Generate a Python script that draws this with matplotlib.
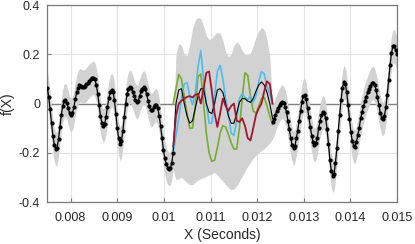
import numpy as np
import matplotlib
matplotlib.use("Agg")
import matplotlib.pyplot as plt

plt.rcParams['font.family'] = ['Liberation Sans', 'DejaVu Sans']
plt.rcParams['axes.unicode_minus'] = False

# observed signal, left part (sampled every 30 us from 7.5 ms)
fs = 1 / 3e-5
left_t0 = 0.0075
left_f = [0.065, 0.028, -0.024, -0.08, -0.13, -0.167, -0.185, -0.18, -0.145, -0.097,
          -0.048, -0.01, 0.011, 0.014, 0.002, -0.02, -0.04, -0.047, -0.039, -0.015,
          0.018, 0.046, 0.065, 0.074, 0.073, 0.069, 0.069, 0.072, 0.078, 0.085,
          0.092, 0.098, 0.102, 0.104, 0.098, 0.077, 0.04, -0.005, -0.05, -0.078,
          -0.09, -0.082, -0.055, -0.014, 0.022, 0.046, 0.055, 0.046, 0.014, -0.044,
          -0.10, -0.142, -0.164, -0.153, -0.11, -0.056, -0.003, 0.038, 0.06, 0.068,
          0.064, 0.048, 0.03, 0.013, 0.005, 0.011, 0.03, 0.049, 0.061, 0.066,
          0.058, 0.038, 0.012, -0.012, -0.026, -0.026, -0.016, -0.008, -0.006, -0.02,
          -0.05, -0.093, -0.14, -0.187, -0.222, -0.246, -0.26, -0.267, -0.262, -0.24,
          -0.2]

# observed signal, right part
right_t0 = 0.01233
right_f = [-0.075, -0.063, -0.047, -0.03, -0.017, -0.005, 0.004, 0.008, 0.003, -0.013,
           -0.036, -0.07, -0.105, -0.14, -0.168, -0.182, -0.173, -0.142, -0.11, -0.07,
           -0.032, 0.008, 0.03, 0.033, 0.017, -0.018, -0.056, -0.095, -0.13, -0.158,
           -0.169, -0.162, -0.138, -0.1, -0.07, -0.047, -0.036, -0.04, -0.06, -0.105,
           -0.165, -0.228, -0.272, -0.293, -0.285, -0.24, -0.18, -0.11, -0.045, 0.015,
           0.065, 0.087, 0.08, 0.045, -0.005, -0.062, -0.115, -0.152, -0.172, -0.175,
           -0.155, -0.127, -0.098, -0.06, -0.035, -0.012, 0.01, 0.028, 0.045, 0.06,
           0.072, 0.082, 0.084, 0.075, 0.055, 0.025, -0.005, -0.037, -0.058, -0.064,
           -0.05, -0.015, 0.035, 0.095, 0.155, 0.205, 0.232, 0.232, 0.218, 0.2]

# missing segment: posterior band and four samples
gap_start, gap_end, gap_n = 0.0102, 0.01233, 37
gap_upper = [0.10, 0.20, 0.245, 0.235, 0.20, 0.195, 0.24, 0.305, 0.34, 0.35,
             0.345, 0.315, 0.275, 0.26, 0.265, 0.28, 0.29, 0.285, 0.255, 0.21,
             0.19, 0.20, 0.235, 0.25, 0.24, 0.215, 0.20, 0.198, 0.205, 0.235,
             0.27, 0.295, 0.31, 0.30, 0.26, 0.19, 0.12]
gap_lower = [-0.31, -0.31, -0.305, -0.30, -0.31, -0.322, -0.33, -0.33, -0.32, -0.31,
             -0.305, -0.30, -0.295, -0.29, -0.285, -0.28, -0.29, -0.305, -0.315, -0.33,
             -0.342, -0.35, -0.347, -0.335, -0.315, -0.295, -0.275, -0.255, -0.238, -0.222,
             -0.21, -0.20, -0.19, -0.183, -0.172, -0.16, -0.145]
sample_green = [0.0, 0.06, 0.118, 0.10, 0.03, -0.04, -0.10, -0.10, -0.01, 0.11,
                0.12, 0.0, -0.12, -0.20, -0.235, -0.23, -0.18, -0.12, -0.09, -0.095,
                -0.125, -0.16, -0.185, -0.185, -0.10, 0.02, 0.125, 0.115, 0.03, -0.03,
                -0.04, -0.01, 0.02, 0.025, -0.01, -0.05, -0.085]
sample_cyan = [-0.20, -0.13, -0.06, 0.02, 0.08, 0.085, 0.03, -0.005, 0.04, 0.15,
               0.215, 0.10, 0.0, -0.08, -0.08, 0.03, 0.13, 0.155, 0.10, 0.02,
               -0.04, -0.12, -0.13, -0.07, 0.02, 0.04, 0.025, 0.015, 0.03, 0.005,
               0.03, 0.09, 0.13, 0.12, 0.07, 0.04, 0.0]
sample_red = [-0.175, -0.05, 0.0, 0.012, 0.02, 0.027, 0.03, 0.025, 0.035, 0.04,
              0.0, 0.06, 0.125, 0.13, 0.05, -0.04, -0.095, -0.04, 0.02, -0.01,
              -0.03, -0.01, 0.0, -0.07, -0.075, -0.06, -0.09, -0.14, -0.15, -0.10,
              -0.047, -0.02, 0.0, 0.05, 0.09, 0.08, 0.0]
sample_black = [-0.19, 0.0, 0.055, 0.06, 0.0, -0.05, -0.08, -0.07, -0.02, 0.03,
                0.06, 0.06, 0.0, -0.035, -0.04, 0.0, 0.055, 0.06, 0.045, 0.0,
                -0.05, -0.08, -0.08, -0.04, 0.005, 0.02, 0.02, 0.01, 0.005, 0.02,
                0.05, 0.075, 0.088, 0.075, 0.045, 0.0, -0.06]
noise_band = 0.068

x_ticks = [0.008, 0.009, 0.01, 0.011, 0.012, 0.013, 0.014, 0.015]
x_ticklabels = ['0.008', '0.009', '0.01', '0.011', '0.012', '0.013', '0.014', '0.015']
y_ticks = [-0.4, -0.2, 0, 0.2, 0.4]
y_ticklabels = ['-0.4', '-0.2', '0', '0.2', '0.4']


def main():
    left_f_a = np.array(left_f)
    right_f_a = np.array(right_f)
    left_x = left_t0 + np.arange(len(left_f)) / fs
    right_x = right_t0 + np.arange(len(right_f)) / fs
    gap_x = np.linspace(gap_start, gap_end, gap_n)

    band_x = np.concatenate([left_x, gap_x[1:-1], right_x])
    band_lo = np.concatenate([left_f_a - noise_band, gap_lower[1:-1], right_f_a - noise_band])
    band_hi = np.concatenate([left_f_a + noise_band, gap_upper[1:-1], right_f_a + noise_band])

    fig = plt.figure(figsize=(4.15, 2.44), dpi=100)
    ax = fig.add_axes([0.114, 0.172, 0.8427, 0.8074])

    ax.axhline(0, color='#808080', lw=1.0, zorder=1)
    ax.fill_between(band_x, band_lo, band_hi, color='#d2d2d2', lw=0, zorder=2)

    ax.plot(gap_x, sample_green, color='#77ac30', lw=1.2, zorder=3)
    ax.plot(gap_x, sample_cyan, color='#4dbeee', lw=1.2, zorder=3)
    ax.plot(gap_x, sample_black, color='k', lw=0.8, zorder=3)
    ax.plot(gap_x, sample_red, color='#a2142f', lw=1.3, zorder=3)

    ax.plot(left_x, left_f, '.-', color='k', lw=0.9, ms=4, zorder=4)
    ax.plot(right_x, right_f, '.-', color='k', lw=0.9, ms=4, zorder=4)

    ax.set_xlim(0.0075, 0.015)
    ax.set_ylim(-0.4, 0.4)
    ax.set_xticks(x_ticks)
    ax.set_xticklabels(x_ticklabels)
    ax.set_yticks(y_ticks)
    ax.set_yticklabels(y_ticklabels)
    ax.grid(True, color='#e3e3e3', lw=0.8)
    ax.set_axisbelow(True)
    for s in ax.spines.values():
        s.set_color('#7a7a7a')
        s.set_linewidth(0.9)
    ax.tick_params(direction='in', length=3, color='#7a7a7a', labelsize=9,
                   labelcolor='#262626')
    ax.tick_params(axis='x', pad=7)
    ax.tick_params(axis='y', pad=5)
    ax.set_xlabel('X (Seconds)', fontsize=10, color='#262626', labelpad=3)
    ax.set_ylabel('f(X)', fontsize=10, color='#262626', labelpad=3)

    fig.savefig('out.png', dpi=100)


if __name__ == "__main__":
    main()
